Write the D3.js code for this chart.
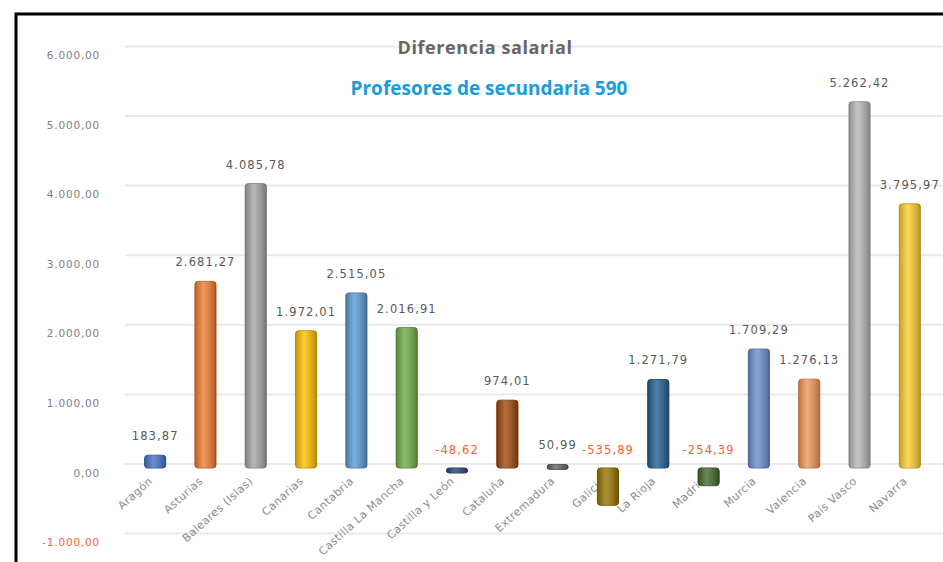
<!DOCTYPE html>
<html>
<head>
<meta charset="utf-8">
<script src="https://cdn.jsdelivr.net/npm/d3@7"></script>
<style>
  body { margin: 0; background: #fff; }
  svg { display: block; }
</style>
</head>
<body>
<div id="chart"></div>
<script>
// Datos
const regiones = ["Aragón", "Asturias", "Baleares (Islas)", "Canarias", "Cantabria", "Castilla La Mancha",
  "Castilla y León", "Cataluña", "Extremadura", "Galicia", "La Rioja", "Madrid", "Murcia",
  "Valencia", "País Vasco", "Navarra"];
const diferencias = [183.87, 2681.27, 4085.78, 1972.01, 2515.05, 2016.91, -48.62, 974.01, 50.99,
  -535.89, 1271.79, -254.39, 1709.29, 1276.13, 5262.42, 3795.97];
const colores = ["#4472C4", "#ED7D31", "#A5A5A5", "#FFC000", "#5B9BD5", "#70AD47", "#264478", "#9E480E",
  "#636363", "#997300", "#255E91", "#43682B", "#698ED0", "#F1975A", "#B7B7B7", "#FFCD33"];
const ticksY = [-1000, 0, 1000, 2000, 3000, 4000, 5000, 6000];

const width = 943, height = 562;

const es = d3.formatLocale({ decimal: ",", thousands: ".", grouping: [3], currency: ["", "€"], minus: "-" });
const fmt = es.format(",.2f");

const svg = d3.select("#chart").append("svg")
  .attr("width", width)
  .attr("height", height);

// Degradado para simular el cilindro
const defs = svg.append("defs");
const grad = defs.append("linearGradient").attr("id", "sombra")
  .attr("x1", "0%").attr("x2", "100%").attr("y1", "0%").attr("y2", "0%");
grad.append("stop").attr("offset", "0%").attr("stop-color", "#000").attr("stop-opacity", 0.22);
grad.append("stop").attr("offset", "40%").attr("stop-color", "#fff").attr("stop-opacity", 0.2);
grad.append("stop").attr("offset", "100%").attr("stop-color", "#000").attr("stop-opacity", 0.28);

const x = d3.scaleBand()
  .domain(regiones)
  .range([130, 935])
  .paddingInner(0.58)
  .paddingOuter(0.29);

const y = d3.scaleLinear()
  .domain([-1000, 6000])
  .range([537.6, 50.4]);

// Líneas de la cuadrícula
svg.append("g")
  .selectAll("line")
  .data(ticksY)
  .join("line")
  .attr("x1", 125)
  .attr("x2", width)
  .attr("y1", d => y(d) - 4)
  .attr("y2", d => y(d) - 4)
  .attr("stroke", "#e9e9e9")
  .attr("stroke-width", 2);

// Eje Y
svg.append("g")
  .selectAll("text")
  .data(ticksY)
  .join("text")
  .attr("x", 100)
  .attr("y", d => y(d) + 5)
  .attr("dy", "0.35em")
  .attr("text-anchor", "end")
  .attr("font-family", "DejaVu Sans")
  .attr("font-size", 10.5)
  .attr("letter-spacing", 0.8)
  .attr("fill", d => d < 0 ? "#F4623A" : "#7f7f7f")
  .text(d => fmt(d));

// Etiquetas de categorías
svg.append("g")
  .selectAll("text")
  .data(regiones)
  .join("text")
  .attr("transform", d => `translate(${x(d) + x.bandwidth() / 2 - 2}, ${y(0) + 14}) rotate(-42)`)
  .attr("text-anchor", "end")
  .attr("font-family", "DejaVu Sans")
  .attr("font-size", 11)
  .attr("letter-spacing", 0.4)
  .attr("fill", "#8a8a8a")
  .text(d => d);

// Barras
const barras = svg.append("g")
  .selectAll("g")
  .data(regiones.map((r, i) => ({ region: r, valor: diferencias[i], color: colores[i] })))
  .join("g");

barras.append("rect")
  .attr("x", d => x(d.region))
  .attr("y", d => Math.min(y(d.valor), y(0)))
  .attr("width", x.bandwidth())
  .attr("height", d => Math.max(Math.abs(y(d.valor) - y(0)), 5))
  .attr("rx", 3)
  .attr("fill", d => d.color)
  .attr("stroke", d => d3.color(d.color).darker(0.6))
  .attr("stroke-width", 1);

barras.append("rect")
  .attr("x", d => x(d.region))
  .attr("y", d => Math.min(y(d.valor), y(0)))
  .attr("width", x.bandwidth())
  .attr("height", d => Math.max(Math.abs(y(d.valor) - y(0)), 5))
  .attr("rx", 3)
  .attr("fill", "url(#sombra)");

// Etiquetas de valores
barras.append("text")
  .attr("x", d => x(d.region) + x.bandwidth() / 2)
  .attr("y", d => d.valor >= 0 ? y(d.valor) - 15 : y(0) - 14)
  .attr("text-anchor", "middle")
  .attr("font-family", "DejaVu Sans")
  .attr("font-size", 11.5)
  .attr("letter-spacing", 1.1)
  .attr("fill", d => d.valor < 0 ? "#F4623A" : "#595959")
  .text(d => fmt(d.valor));

// Títulos
svg.append("text")
  .attr("x", 485)
  .attr("y", 54)
  .attr("text-anchor", "middle")
  .attr("font-family", "Open Sans")
  .attr("font-weight", "bold")
  .attr("font-size", 18)
  .attr("letter-spacing", 0.6)
  .attr("fill", "#666666")
  .text("Diferencia salarial");

svg.append("text")
  .attr("x", 489)
  .attr("y", 95)
  .attr("text-anchor", "middle")
  .attr("font-family", "Open Sans")
  .attr("font-weight", "bold")
  .attr("font-size", 19)
  .attr("fill", "#1A9CD8")
  .text("Profesores de secundaria 590");

// Marco
svg.append("rect")
  .attr("x", 16)
  .attr("y", 14)
  .attr("width", 1000)
  .attr("height", 700)
  .attr("fill", "none")
  .attr("stroke", "#000")
  .attr("stroke-width", 3);
</script>
</body>
</html>
